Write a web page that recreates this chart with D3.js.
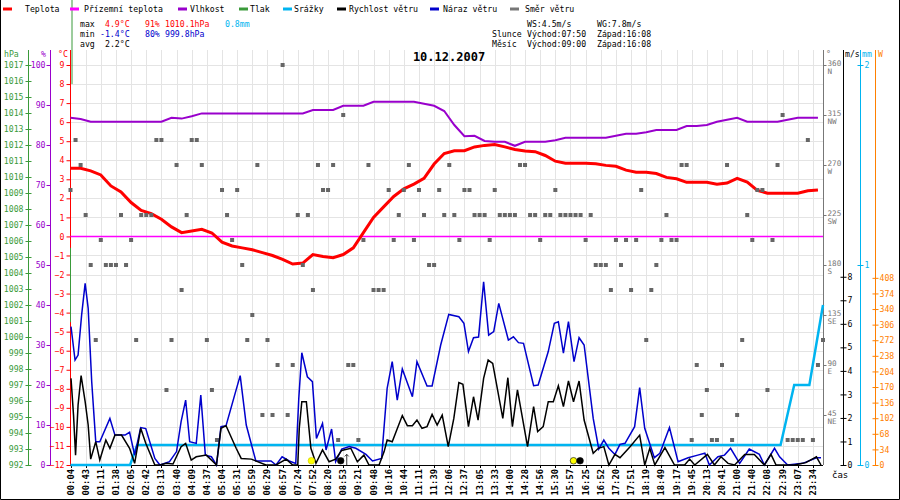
<!DOCTYPE html>
<html lang="cs">
<head>
<meta charset="UTF-8">
<title>Počasí 10.12.2007</title>
<script src="https://cdn.jsdelivr.net/npm/d3@7"></script>
<style>
body{margin:0;background:#fff}
svg{display:block}
text{font-family:"DejaVu Sans Mono",monospace;font-size:8.2px}
</style>
</head>
<body>
<svg width="900" height="500"></svg>
<script>
// popisky casu - jeden na kazdy 3. vzorek
var timeLabels=["00:04","00:43","01:11","01:38","02:05","02:42","03:13","03:40","04:09","04:37",
 "05:04","05:31","05:59","06:29","06:57","07:24","07:52","08:20","08:53","09:21",
 "09:48","10:16","10:44","11:11","11:39","12:06","12:37","13:05","13:33","14:00",
 "14:28","14:56","15:30","15:57","16:25","16:52","17:20","17:51","18:19","18:49",
 "19:17","19:45","20:13","20:41","21:00","21:40","22:08","22:39","23:07","23:34"];

// teplota [°C], kazdy 2. vzorek
var temp=[3.58,3.58,3.44,3.23,2.65,2.33,1.78,1.37,1.2,0.9,0.5,0.2,0.28,0.37,0.18,-0.3,-0.5,-0.6,-0.7,-0.85,
 -1.0,-1.2,-1.45,-1.4,-0.95,-1.05,-1.12,-0.95,-0.6,0.2,1.0,1.55,2.1,2.5,2.75,3.05,3.8,4.35,4.5,4.5,
 4.7,4.78,4.82,4.7,4.56,4.48,4.45,4.25,3.95,3.84,3.84,3.84,3.82,3.73,3.68,3.48,3.37,3.37,3.3,3.1,
 3.03,2.84,2.84,2.84,2.74,2.8,3.05,2.85,2.42,2.27,2.27,2.27,2.27,2.4,2.44];

// vlhkost [%], kazdy 2. vzorek
var humidity=[86.8,86.5,85.8,85.8,85.8,85.8,85.8,85.8,85.8,85.8,86.8,86.6,87.2,87.9,87.9,87.9,87.9,87.9,87.9,87.9,
 87.9,87.9,87.9,87.9,88.75,88.75,88.75,89.8,89.8,89.8,90.8,90.8,90.8,90.8,90.8,90.3,89.8,88.5,85,82.2,
 82.3,81,80.8,80.8,79.8,80.8,80.8,80.8,81.2,81.8,81.8,81.8,81.8,81.8,82.3,82.8,82.8,83.2,83.75,83.75,
 83.75,84.75,84.75,85,85.8,86.3,86.8,85.8,85.8,85.8,85.8,86.3,86.8,86.8,86.8];

// prizemni teplota [vzorek, °C]
var groundTemp=[[0,0],[149,0]];

// srazky kumulativne [vzorek, mm]
var rain=[[0,0],[11.8,0],[13.2,0.1],[140.6,0.1],[143.3,0.4],[146.3,0.4],[149,0.8]];

// naraz vetru [vzorek, m/s]
var gust=[[0.1,5.88],[0.9,4.46],[1.5,4.67],[2.2,6.37],[2.9,7.72],[3.5,6.66],[4.2,3.54],[5.0,0.99],[5.8,0.99],[7.8,1.98],
 [8.8,1.27],[10.8,1.27],[11.7,1.39],[12.7,0.42],[13.9,1.59],[14.9,1.55],[16.7,0.28],[17.7,0],[19.6,0.14],[21.0,0.57],
 [21.9,1.84],[22.8,2.76],[23.6,0.99],[24.9,0.92],[25.8,2.97],[26.7,0.42],[27.9,0.35],[28.9,0],[29.8,1.63],[30.8,1.67],
 [32.5,2.97],[33.6,3.8],[34.8,1.7],[36.7,0.17],[39.7,0.17],[40.7,0],[41.9,0.35],[43.3,0.17],[44.6,0.07],[45.2,2.83],
 [45.8,4.77],[46.9,3.75],[47.9,3.54],[48.7,1.13],[49.9,1.77],[50.6,0.64],[51.7,1.53],[52.5,0.14],[53.7,0.68],[55.2,0.78],
 [56.5,0.71],[58.5,0.45],[59.8,0.17],[61.6,0.28],[62.7,3.26],[63.7,4.39],[64.7,2.76],[65.7,4.08],[67.7,2.9],[68.6,4.39],
 [70.6,3.36],[71.6,3.36],[73.3,5.1],[74.9,6.4],[76.9,6.3],[77.9,6.02],[78.8,4.82],[79.8,5.41],[80.8,5.44],[81.8,7.79],
 [82.8,5.52],[83.8,5.67],[84.8,6.87],[86.7,5.31],[87.7,5.45],[88.7,5.2],[89.7,5.17],[91.7,3.37],[92.6,3.4],[94.6,4.82],
 [95.8,6.02],[96.6,6.09],[97.6,4.75],[98.6,6.09],[99.7,4.39],[100.7,5.41],[101.7,5.1],[103.5,1.98],[104.6,0.68],[105.6,1.06],
 [106.6,0.71],[107.8,0.45],[108.8,0.88],[109.8,0.92],[111.7,1.63],[112.7,3.29],[113.7,1.56],[115.6,0.31],[116.7,0.5],[118.6,1.59],
 [120.3,0.14],[122.3,0.31],[124.2,0.42],[125.6,0.5],[126.5,0],[128.2,0.35],[129.5,0.42],[130.7,0.71],[132.5,0.07],[134.4,0.68],
 [136.4,0.45],[137.4,0],[139.4,0.71],[140.4,0.35],[142.0,0],[145.0,0.07],[147.7,0.31],[148.6,0.31]];

// rychlost vetru [vzorek, m/s]
var wind=[[0.1,3.68],[0.6,2.12],[1.0,0.42],[1.5,2.55],[2.1,3.8],[2.9,2.69],[3.5,1.7],[4.0,0.25],[5.0,0.99],[5.8,0.21],
 [7.0,1.06],[7.8,0.71],[8.8,1.27],[10.1,1.27],[11.7,0.71],[12.7,0.07],[13.9,1.56],[14.9,0.92],[16.7,0],[17.7,0],
 [19.0,0.07],[20.3,0.04],[21.9,0.78],[22.8,0.92],[23.9,0.21],[24.9,0.35],[26.9,0.42],[28.9,0],[29.8,1.56],[30.8,1.67],
 [32.8,0.71],[33.8,0.28],[35.8,0.25],[38.7,0],[40.7,0],[42.7,0.25],[44.0,0],[45.0,0],[45.3,1.56],[45.8,2.69],
 [46.7,2.69],[47.6,0.71],[48.6,0.07],[49.9,0.64],[51.2,0.14],[52.5,0.25],[53.7,0.62],[55.5,0.71],[56.8,0.14],[58.1,0.42],
 [59.1,0],[61.1,0],[62.1,0.57],[62.7,1.06],[63.7,0.99],[65.7,2.1],[66.7,1.67],[67.7,1.67],[68.6,1.91],[69.6,1.56],
 [70.6,1.63],[71.6,2.15],[72.6,1.7],[73.6,2.12],[74.8,0.78],[75.9,1.98],[76.9,3.5],[77.7,3.43],[78.8,1.63],[79.8,2.9],
 [80.7,1.91],[81.8,3.68],[82.7,4.46],[83.6,4.32],[85.6,1.98],[86.6,3.71],[87.5,1.63],[88.5,3.19],[90.5,0.78],[91.7,2.48],
 [92.5,1.42],[93.6,1.63],[94.6,2.69],[95.6,2.69],[96.6,3.37],[97.6,2.48],[98.6,3.57],[99.6,2.69],[100.7,3.57],[101.7,1.91],
 [103.5,0.5],[104.5,0.71],[105.6,0.78],[106.6,0],[107.8,0.45],[108.8,0.31],[110.8,0.78],[112.7,1.27],[113.7,0],[114.7,0.71],
 [115.7,0],[117.7,0.74],[119.6,0],[121.6,0],[122.6,0.25],[123.6,0],[126.1,0.45],[127.5,0],[128.8,0.35],[130.2,0.07],
 [131.5,0],[133.5,0.45],[135.4,0.45],[137.4,0],[138.7,0.45],[139.7,0],[143.3,0],[145.6,0.1],[147.7,0.35],[148.6,0]];

// smer vetru [°], kazdy vzorek
var direction=[247.5,292.5,270,225,180,112.5,202.5,180,180,180,225,180,202.5,112.5,225,225,225,292.5,292.5,67.5,
 112.5,270,157.5,225,292.5,292.5,270,112.5,67.5,22.5,247.5,225,202.5,247.5,180,112.5,135,270,45,112.5,
 45,90,360,45,90,225,180,225,157.5,270,247.5,247.5,270,22.5,315,90,90,22.5,202.5,270,
 157.5,157.5,157.5,247.5,202.5,225,247.5,270,202.5,247.5,225,180,180,247.5,225,270,225,202.5,247.5,247.5,
 225,225,225,202.5,247.5,225,225,225,225,270,270,225,225,202.5,225,225,247.5,225,225,225,
 225,225,202.5,225,180,180,180,157.5,202.5,180,202.5,157.5,202.5,247.5,112.5,157.5,180,202.5,225,202.5,
 202.5,270,270,22.5,90,45,67.5,22.5,22.5,90,270,22.5,45,112.5,225,202.5,247.5,247.5,67.5,202.5,
 270,315,22.5,22.5,22.5,22.5,292.5,22.5,90,112.5];

// vychod/zapad slunce a mesice [vzorek]
var eventAt=[47.7,53.5,99.6,100.9];
var eventKind=["sunrise","moonrise","sunset","moonset"];

var compass=["NE","E","SE","S","SW","W","NW","N"];

var svg=d3.select('svg');
var x=d3.scaleLinear().domain([0,149]).range([70.5,823]);
var yT=d3.scaleLinear().domain([-12,9]).range([465,65]);
var yH=d3.scaleLinear().domain([0,100]).range([465,65]);
var yP=d3.scaleLinear().domain([992,1017]).range([465,65]);
var yD=d3.scaleLinear().domain([0,360]).range([465,65]);
var yW=d3.scaleLinear().domain([0,17]).range([465,65]);
var yR=d3.scaleLinear().domain([0,2]).range([465,65]);
var yS=d3.scaleLinear().domain([0,872]).range([465,65]);
var fmt=d3.format('d');

var grid=svg.append('g').attr('stroke','#e4e4e4').attr('shape-rendering','crispEdges');
// svisla mrizka
grid.selectAll('.v').data(d3.range(1,timeLabels.length)).enter().append('line')
    .attr('x1',function(i){return Math.round(x(i*3))+0.5;})
    .attr('x2',function(i){return Math.round(x(i*3))+0.5;})
    .attr('y1',50).attr('y2',465);
// vodorovna mrizka po 1 °C
grid.selectAll('.h').data(d3.range(-11,10)).enter().append('line')
    .attr('x1',70).attr('x2',823)
    .attr('y1',function(d){return Math.round(yT(d))+0.5;})
    .attr('y2',function(d){return Math.round(yT(d))+0.5;});

// osa x
svg.append('line').attr('x1',70).attr('x2',823).attr('y1',465.5).attr('y2',465.5)
    .attr('stroke','#000').attr('shape-rendering','crispEdges');
svg.selectAll('.xt').data(timeLabels).enter().append('line')
    .attr('x1',function(d,i){return Math.round(x(i*3))+0.5;})
    .attr('x2',function(d,i){return Math.round(x(i*3))+0.5;})
    .attr('y1',466).attr('y2',468).attr('stroke','#000');
svg.selectAll('.xl').data(timeLabels).enter().append('text')
    .attr('transform',function(d,i){return 'translate('+(x(i*3)+3)+',469) rotate(-90)';})
    .attr('text-anchor','end').style('font-size','8.8px').style('font-weight','bold')
    .text(function(d){return d;});
svg.append('text').attr('x',832).attr('y',478).style('font-size','9px').text('čas');

// osy - svisle cary
function vline(xp,y1,y2,color){
    svg.append('line').attr('x1',xp).attr('x2',xp).attr('y1',y1).attr('y2',y2)
        .attr('stroke',color).attr('shape-rendering','crispEdges');
}
function drawAxis(axis,xp,color,cross){
    var g=svg.append('g').attr('transform','translate('+xp+',0)').call(axis.tickFormat(fmt));
    g.attr('font-family',null).attr('font-size',null);
    g.select('.domain').remove();
    g.selectAll('.tick line').attr('stroke',color);
    if(cross) g.selectAll('.tick line').attr('x1',-cross);
    g.selectAll('.tick text').attr('fill',color);
    vline(xp,50,465,color);
    return g;
}

var cP='#3a9a3a',cH='#9900cc',cT='#ff0000',cD='#777777',cR='#00b4f0',cS='#ff8000';

drawAxis(d3.axisLeft(yP).tickValues(d3.range(992,1018)).tickSize(3).tickPadding(2),28.5,cP,-3);
drawAxis(d3.axisLeft(yH).tickValues(d3.range(0,101,10)).tickSize(4).tickPadding(1),50.5,cH);
drawAxis(d3.axisLeft(yT).tickValues(d3.range(-12,10)).tickSize(4).tickPadding(2),70.5,cT);

var gd=drawAxis(d3.axisRight(yD).tickValues(d3.range(45,361,45)).tickSize(3).tickPadding(1),823.5,cD);
gd.selectAll('.tick text').style('font-size','7.6px').attr('dy','0.1em');
gd.selectAll('.tick').append('text').attr('fill',cD).attr('x',4).attr('dy',8.6)
    .style('font-size','7.6px')
    .text(function(d){return compass[d/45-1];});
drawAxis(d3.axisRight(yW).tickValues(d3.range(0,9)).tickSize(3).tickPadding(1),843.5,'#000',3);
drawAxis(d3.axisRight(yR).tickValues([0,1,2]).tickSize(3).tickPadding(1),860.5,cR,3);
drawAxis(d3.axisRight(yS).tickValues(d3.range(0,409,34)).tickSize(3).tickPadding(1),875.5,cS,3);

// jednotky nad osami
var units=[['hPa',4,cP],['%',41,cH],['°C',58,cT],['°',826,cD],['m/s',845,'#000'],['mm',862,cR],['W',878,cS]];
svg.selectAll('.unit').data(units).enter().append('text')
    .attr('x',function(d){return d[1];}).attr('y',57).attr('fill',function(d){return d[2];})
    .text(function(d){return d[0];});

// prizemni teplota
svg.append('path').datum(groundTemp)
    .attr('d',d3.line().x(function(d){return x(d[0]);}).y(function(d){return yT(d[1]);}))
    .attr('fill','none').attr('stroke','#ff00ff').attr('stroke-width',1.5);

// vlhkost
svg.append('path').datum(humidity)
    .attr('d',d3.line().x(function(d,i){return x(i*2);}).y(function(d){return yH(d);}))
    .attr('fill','none').attr('stroke',cH).attr('stroke-width',2);

// teplota
svg.append('path').datum(temp)
    .attr('d',d3.line().x(function(d,i){return x(i*2);}).y(function(d){return yT(d);}))
    .attr('fill','none').attr('stroke',cT).attr('stroke-width',3);

// tlak - svisla cara na zacatku
svg.append('line').attr('x1',72).attr('x2',72).attr('y1',0).attr('y2',yT(8)).attr('stroke',cP);
svg.append('line').attr('x1',70.5).attr('x2',70.5).attr('y1',yT(-0.6)).attr('y2',yT(-4.5)).attr('stroke',cP);

// smer vetru
svg.selectAll('.dir').data(direction).enter().append('rect')
    .attr('x',function(d,i){return x(i)-2;}).attr('y',function(d){return yD(d)-2;})
    .attr('width',4).attr('height',4).attr('fill','#666');

var lineXY=d3.line().x(function(d){return x(d[0]);});
// srazky
svg.append('path').datum(rain)
    .attr('d',lineXY.y(function(d){return yR(d[1]);}))
    .attr('fill','none').attr('stroke',cR).attr('stroke-width',2.5);
// naraz vetru
svg.append('path').datum(gust)
    .attr('d',lineXY.y(function(d){return yW(d[1]);}))
    .attr('fill','none').attr('stroke','#0000cc').attr('stroke-width',1.5);
// rychlost vetru
svg.append('path').datum(wind)
    .attr('d',lineXY.y(function(d){return yW(d[1]);}))
    .attr('fill','none').attr('stroke','#000').attr('stroke-width',1.5);

// slunce a mesic
svg.selectAll('.ev').data(eventAt).enter().append('circle')
    .attr('cx',function(d){return x(d);}).attr('cy',yW(0.18)).attr('r',3.3)
    .attr('fill',function(d,i){return eventKind[i].indexOf('sun')==0?'#ffff00':'#000';})
    .attr('stroke',function(d,i){return eventKind[i]=='sunrise'?'#c8c800':'#000';})
    .attr('stroke-width',0.6);
svg.append('path').attr('d','M'+x(54.7)+','+yW(0)+'V'+yW(0.45)+'m-2,2l2,-2l2,2')
    .attr('fill','none').attr('stroke','#000').attr('stroke-width',0.8);

// legenda
var legendNames=['Teplota','Přízemní teplota','Vlhkost','Tlak','Srážky','Rychlost větru','Náraz větru','Směr větru'];
var legendColors=[cT,'#ff00ff',cH,cP,cR,'#000','#0000cc','#777'];
var legendLineX=[3,70,178,239,283,337,430,510];
var legendTextX=[25,84,190,250,294,349,443,525];
legendNames.forEach(function(n,i){
    svg.append('line').attr('x1',legendLineX[i]).attr('x2',legendLineX[i]+9).attr('y1',9).attr('y2',9)
        .attr('stroke',legendColors[i]).attr('stroke-width',3);
    svg.append('text').attr('x',legendTextX[i]).attr('y',12).text(n);
});

// souhrn
var stats=[['max',80,27,'#000'],['4.9°C',105,27,cT],['91%',145,27,cT],['1010.1hPa',165,27,cT],['0.8mm',225,27,cR],
 ['min',80,37,'#000'],['-1.4°C',100,37,'#0000cc'],['80%',145,37,'#0000cc'],['999.8hPa',165,37,'#0000cc'],
 ['avg',80,47,'#000'],['2.2°C',105,47,'#000'],
 ['WS:4.5m/s',527,27,'#000'],['WG:7.8m/s',597,27,'#000'],
 ['Slunce',492,37,'#000'],['Východ:07:50',527,37,'#000'],['Západ:16:08',597,37,'#000'],
 ['Měsíc',492,47,'#000'],['Východ:09:00',527,47,'#000'],['Západ:16:08',597,47,'#000']];
svg.selectAll('.st').data(stats).enter().append('text')
    .attr('x',function(d){return d[1];}).attr('y',function(d){return d[2];})
    .attr('fill',function(d){return d[3];}).text(function(d){return d[0];});

svg.append('text').attr('x',449).attr('y',61).attr('text-anchor','middle')
    .style('font-size','12px').style('font-weight','bold').text('10.12.2007');

// ramecek
svg.append('path').attr('d','M0.5,0V499.5H899.5V0').attr('fill','none').attr('stroke','#000');
</script>
</body>
</html>
